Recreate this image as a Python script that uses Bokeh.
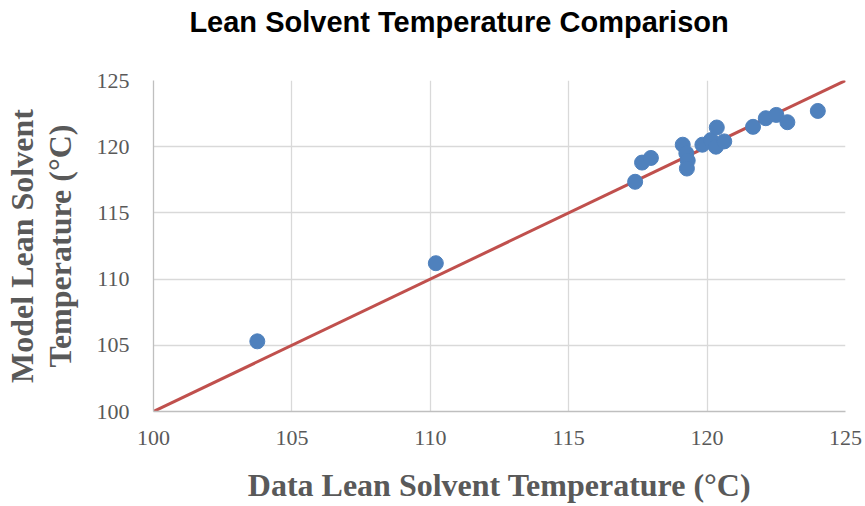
from bokeh.plotting import figure
from bokeh.layouts import column
from bokeh.models import Range1d, FixedTicker
from bokeh.core.properties import value
from bokeh.embed import file_html
from bokeh.resources import INLINE

# Lean solvent temperature: plant data vs. model prediction (°C)
data_temp = [103.75, 110.2, 117.4, 117.65, 117.97, 119.12, 119.25, 119.3, 119.27,
             119.83, 120.14, 120.35, 120.32, 120.62, 121.66, 122.12, 122.5, 122.9, 124.0]
model_temp = [105.3, 111.2, 117.35, 118.8, 119.15, 120.15, 119.5, 118.95, 118.35,
              120.15, 120.5, 121.45, 120.0, 120.4, 121.5, 122.15, 122.4, 121.85, 122.7]

# 1:1 parity line
parity = [100, 125]
ticks = [100, 105, 110, 115, 120, 125]

TITLE = "Lean Solvent Temperature Comparison"
GRAY = "#595959"
W, HEAD_H, MAIN_H = 865, 64, 442
LEFT, RIGHT = 151, 20

# Heading strip; its frame spans the same pixel columns as the plot frame
head = figure(width=W, height=HEAD_H, output_backend="svg", toolbar_location=None,
              x_range=Range1d(LEFT, W - RIGHT), y_range=Range1d(0, HEAD_H),
              min_border_left=LEFT, min_border_right=RIGHT,
              min_border_top=0, min_border_bottom=0,
              outline_line_color=None, border_fill_color="white")
head.axis.visible = False
head.grid.visible = False
head.text(x=[187], y=[HEAD_H - 21], text=[TITLE],
          text_font=value("Liberation Sans"), text_font_style="bold",
          text_font_size="29px", text_color="black",
          text_align="left", text_baseline="alphabetic")

p = figure(width=W, height=MAIN_H, output_backend="svg", toolbar_location=None,
           x_range=Range1d(100, 125), y_range=Range1d(100, 125),
           min_border_left=LEFT, min_border_right=RIGHT, min_border_top=16, min_border_bottom=95,
           background_fill_color="white", border_fill_color="white", outline_line_color=None)

for ax in (p.xaxis[0], p.yaxis[0]):
    ax.ticker = FixedTicker(ticks=ticks)
    ax.major_tick_line_color = None
    ax.minor_tick_line_color = None
    ax.axis_line_color = "#bfbfbf"
    ax.axis_line_width = 1.3
    ax.major_label_text_font = "Liberation Serif"
    ax.major_label_text_font_size = "22px"
    ax.major_label_text_color = GRAY
    ax.axis_label_text_font = "Liberation Serif"
    ax.axis_label_text_font_style = "bold"
    ax.axis_label_text_font_size = "32px"
    ax.axis_label_text_color = GRAY
    ax.axis_label_text_line_height = 1.05

p.xaxis.axis_label = "Data Lean Solvent Temperature (°C)"
p.xaxis.major_label_standoff = 13
p.xaxis.axis_label_standoff = 19
p.yaxis.axis_label = "Model Lean Solvent\nTemperature (°C)"
p.yaxis.major_label_standoff = 18
p.yaxis.axis_label_standoff = 16

p.xgrid.ticker = FixedTicker(ticks=ticks)
p.ygrid.ticker = FixedTicker(ticks=ticks)
p.grid.grid_line_color = "#d9d9d9"
p.grid.grid_line_width = 1.3

p.line(parity, parity, line_color="#C0504D", line_width=3)
p.scatter(data_temp, model_temp, size=15, fill_color="#4F81BD", line_color="#4F81BD")

layout = column(head, p, spacing=0)
open("out.html", "w").write(file_html(layout, INLINE))
